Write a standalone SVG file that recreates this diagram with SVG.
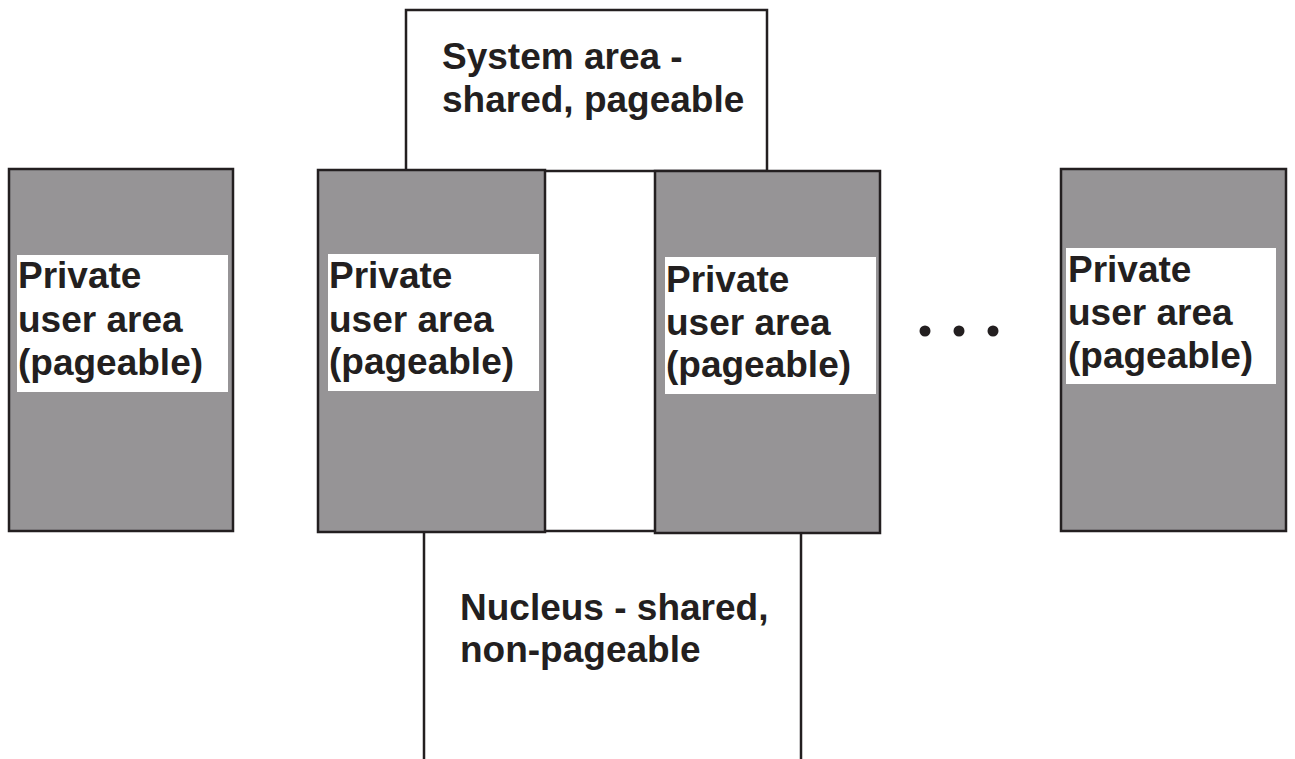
<svg xmlns="http://www.w3.org/2000/svg" width="1295" height="759" viewBox="0 0 1295 759">
<style>
.shared{fill:#ffffff;stroke:#231f20;stroke-width:2.5}
.priv{fill:#969496;stroke:#231f20;stroke-width:2.5}
.lbl{fill:#ffffff;stroke:none}
.t{font-family:"Liberation Sans",Arial,sans-serif;font-weight:bold;font-size:37px;fill:#231f20}
.dot{fill:#231f20}
</style>
<rect width="1295" height="759" fill="#ffffff"/>
<g id="system-area">
<rect class="shared" x="406" y="10" width="361" height="161"/>
<text class="t" x="442" y="69">System area -</text>
<text class="t" x="442" y="112">shared, pageable</text>
</g>
<g id="nucleus">
<rect class="shared" x="424" y="531" width="377" height="260"/>
<text class="t" x="460" y="620">Nucleus - shared,</text>
<text class="t" x="460" y="662">non-pageable</text>
</g>
<g id="private-1">
<rect class="priv" x="9" y="169" width="224" height="362"/>
<rect class="lbl" x="17" y="255" width="211" height="137"/>
<text class="t" x="18" y="288">Private</text>
<text class="t" x="18" y="332">user area</text>
<text class="t" x="18" y="375">(pageable)</text>
</g>
<g id="private-2">
<rect class="priv" x="318" y="170" width="227" height="362"/>
<rect class="lbl" x="328" y="254" width="211" height="137"/>
<text class="t" x="329" y="288">Private</text>
<text class="t" x="329" y="332">user area</text>
<text class="t" x="329" y="374">(pageable)</text>
</g>
<g id="private-3">
<rect class="priv" x="655" y="171" width="225" height="362"/>
<rect class="lbl" x="665" y="257" width="211" height="137"/>
<text class="t" x="666" y="292">Private</text>
<text class="t" x="666" y="335">user area</text>
<text class="t" x="666" y="377">(pageable)</text>
</g>
<g id="ellipsis">
<circle class="dot" cx="925" cy="331" r="5.5"/>
<circle class="dot" cx="959" cy="331" r="5.5"/>
<circle class="dot" cx="993" cy="331" r="5.5"/>
</g>
<g id="private-4">
<rect class="priv" x="1061" y="169" width="225" height="362"/>
<rect class="lbl" x="1066" y="248" width="210" height="136"/>
<text class="t" x="1068" y="282">Private</text>
<text class="t" x="1068" y="325">user area</text>
<text class="t" x="1068" y="368">(pageable)</text>
</g>
<g id="connectors"></g>
</svg>
